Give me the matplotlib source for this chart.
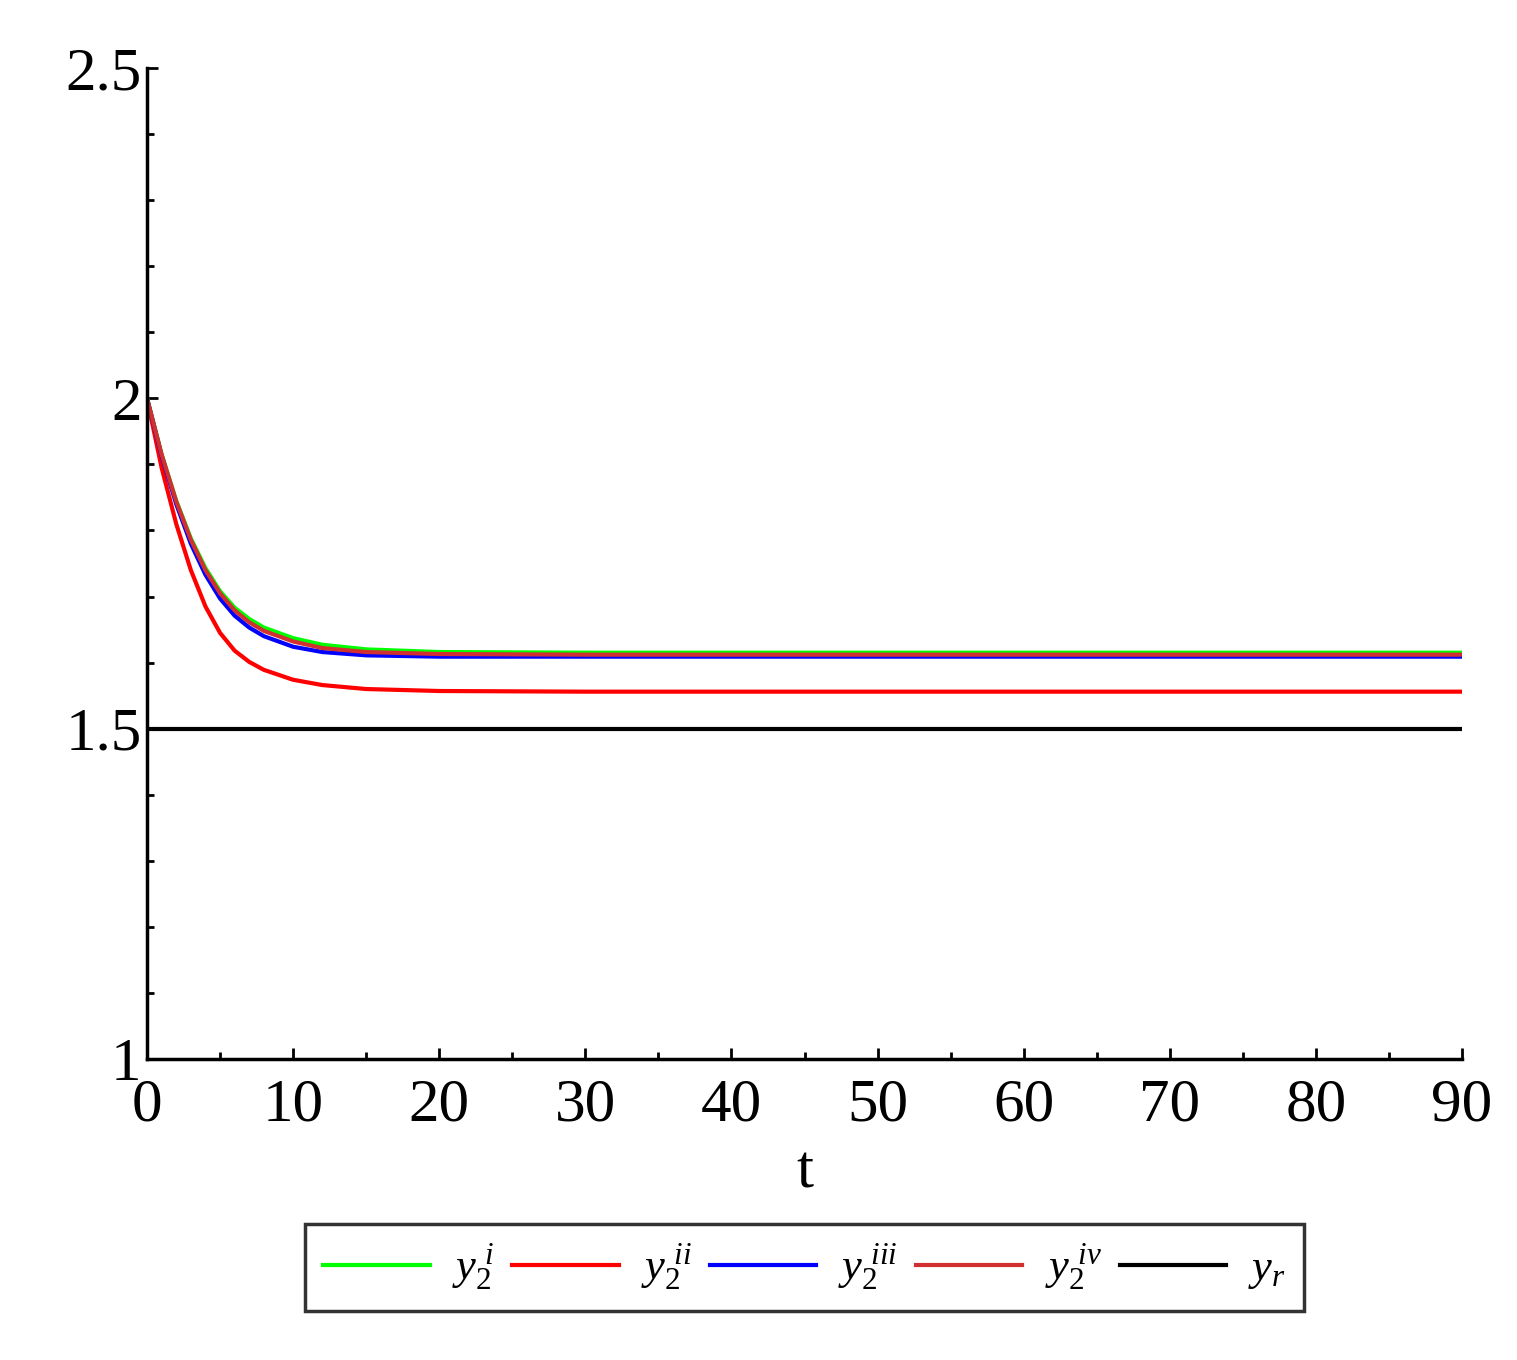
import matplotlib
matplotlib.use("Agg")
import matplotlib.pyplot as plt

plt.rcParams['font.family'] = ['Liberation Serif', 'DejaVu Serif']
plt.rcParams['mathtext.fontset'] = 'custom'
plt.rcParams['mathtext.it'] = 'Liberation Serif:italic'
plt.rcParams['mathtext.rm'] = 'Liberation Serif'

t = [0, 1, 2, 3, 4, 5, 6, 7, 8, 10, 12, 15, 20, 30, 90]
y_i   = [2.0, 1.915, 1.845, 1.788, 1.743, 1.708, 1.683, 1.666, 1.653, 1.637, 1.627, 1.620, 1.616, 1.615, 1.615]
y_ii  = [2.0, 1.895, 1.810, 1.740, 1.685, 1.645, 1.618, 1.601, 1.589, 1.574, 1.566, 1.560, 1.557, 1.556, 1.556]
y_iii = [2.0, 1.913, 1.840, 1.780, 1.733, 1.697, 1.671, 1.653, 1.640, 1.624, 1.616, 1.611, 1.609, 1.609, 1.609]
y_iv  = [2.0, 1.915, 1.844, 1.786, 1.740, 1.705, 1.679, 1.661, 1.648, 1.632, 1.622, 1.616, 1.613, 1.612, 1.612]
y_r   = [1.5, 1.5]
t_r   = [0, 90]

fig = plt.figure(figsize=(15.17, 13.6), dpi=100)
ax = fig.add_axes([147/1517, 1 - 1059/1360, (1462-147)/1517, (1059-68)/1360])
ax.plot(t, y_i, color='#00ff00', lw=3, label=r'$y_2^{\ i}$')
ax.plot(t, y_ii, color='#ff0000', lw=3, label=r'$y_2^{\ ii}$')
ax.plot(t, y_iii, color='#0000ff', lw=3, label=r'$y_2^{\ iii}$')
ax.plot(t, y_iv, color='#d03030', lw=3, label=r'$y_2^{\ iv}$')
ax.plot(t_r, y_r, color='black', lw=3, label=r'$y_r$')
ax.set_xlim(0, 90)
ax.set_ylim(1, 2.5)
ax.set_xticks(range(0, 91, 10))
ax.set_xticks(range(5, 91, 10), minor=True)
ax.set_yticks([1, 1.5, 2, 2.5])
ax.set_yticklabels(['1', '1.5', '2', '2.5'])
ax.set_yticks([1.1, 1.2, 1.3, 1.4, 1.6, 1.7, 1.8, 1.9, 2.1, 2.2, 2.3, 2.4], minor=True)
for s in ['top', 'right']:
    ax.spines[s].set_visible(False)
for s in ['left', 'bottom']:
    ax.spines[s].set_linewidth(2.5)
ax.tick_params(labelsize=44, width=2, length=8, direction='in')
ax.tick_params(axis='x', pad=14)
ax.tick_params(axis='y', pad=4)
ax.tick_params(which='minor', width=2, length=5, direction='in')
ax.set_xlabel('t', fontsize=44, labelpad=8)
leg = ax.legend(loc='center', bbox_to_anchor=(0.5, -0.21), ncol=5, fontsize=32,
                frameon=True, fancybox=False, edgecolor='black', handlelength=2.4,
                columnspacing=0.4, handletextpad=0.5, borderpad=0.4)
leg.get_frame().set_linewidth(2.5)
fig.savefig('out.png', dpi=100)
